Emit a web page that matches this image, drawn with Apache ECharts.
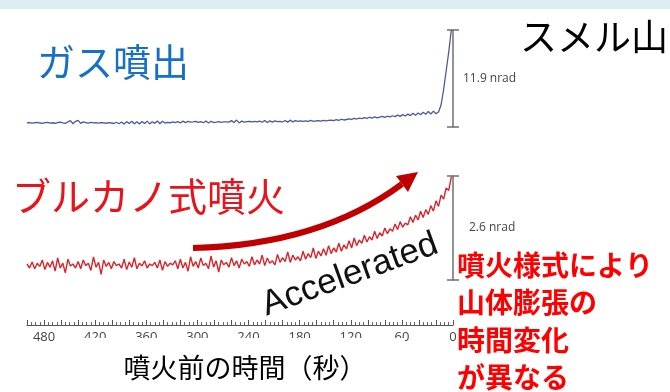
<!DOCTYPE html>
<html>
<head>
<meta charset="utf-8">
<script src="https://cdn.jsdelivr.net/npm/echarts@6/dist/echarts.min.js"></script>
<style>
  html, body { margin: 0; padding: 0; background: #ffffff; }
  #chart { width: 670px; height: 392px; }
</style>
</head>
<body>
<div id="chart"></div>
<script>
// Tilt records before eruption, sampled every 3 s from 500 s before onset.
const startTime = -500;
const stepSec = 3;

// Gas emission event (nrad)
const gasTilt = [
  0.50, 0.55, 0.47, 0.52, 0.58, 0.49, 0.45, 0.53, 0.57, 0.48,
  0.52, 0.46, 0.55, 0.60, 0.50, 0.44, 0.62, 0.78, 0.40, 0.70,
  0.82, 0.45, 0.62, 0.55, 0.48, 0.58, 0.50, 0.53, 0.47, 0.55,
  0.51, 0.46, 0.54, 0.49, 0.43, 0.58, 0.40, 0.62, 0.38, 0.66,
  0.42, 0.70, 0.40, 0.64, 0.36, 0.68, 0.42, 0.72, 0.38, 0.65,
  0.45, 0.74, 0.40, 0.70, 0.48, 0.58, 0.52, 0.62, 0.55, 0.66,
  0.50, 0.72, 0.54, 0.68, 0.60, 0.64, 0.70, 0.56, 0.66, 0.52,
  0.74, 0.48, 0.70, 0.55, 0.60, 0.66, 0.58, 0.62, 0.64, 0.60,
  0.78, 0.55, 0.85, 0.50, 0.72, 0.60, 0.66, 0.70, 0.62, 0.68,
  0.64, 0.72, 0.58, 0.80, 0.55, 0.76, 0.60, 0.74, 0.65, 0.70,
  0.62, 0.80, 0.60, 0.84, 0.62, 0.78, 0.70, 0.74, 0.68, 0.76,
  0.70, 0.80, 0.68, 0.74, 0.78, 0.72, 0.82, 0.76, 0.80, 0.84,
  0.78, 0.90, 0.82, 0.95, 0.86, 0.92, 1.00, 0.94, 1.05, 0.98,
  1.10, 1.02, 1.15, 1.05, 1.20, 1.08, 1.25, 1.12, 1.22, 1.30,
  1.18, 1.32, 1.25, 1.38, 1.28, 1.45, 1.30, 1.52, 1.35, 1.58,
  1.40, 1.68, 1.45, 1.72, 1.50, 1.80, 1.55, 1.90, 1.60, 1.95,
  1.62, 1.85, 2.70, 4.60, 6.90, 9.20, 11.90
];

// Vulcanian eruption (nrad)
const vulcanianTilt = [
  0.40, 0.30, 0.45, 0.28, 0.42, 0.34, 0.50, 0.26, 0.44, 0.32,
  0.48, 0.22, 0.55, 0.30, 0.42, 0.18, 0.52, 0.35, 0.40, 0.30,
  0.46, 0.28, 0.50, 0.36, 0.42, 0.24, 0.58, 0.32, 0.44, 0.14,
  0.50, 0.34, 0.44, 0.28, 0.46, 0.36, 0.40, 0.30, 0.52, 0.26,
  0.45, 0.32, 0.56, 0.28, 0.42, 0.35, 0.48, 0.30, 0.40, 0.36,
  0.44, 0.30, 0.50, 0.24, 0.46, 0.34, 0.42, 0.38, 0.48, 0.28,
  0.52, 0.30, 0.44, 0.22, 0.58, 0.34, 0.46, 0.30, 0.55, 0.36,
  0.42, 0.28, 0.60, 0.32, 0.48, 0.20, 0.50, 0.38, 0.44, 0.32,
  0.56, 0.36, 0.48, 0.30, 0.52, 0.40, 0.46, 0.34, 0.58, 0.38,
  0.50, 0.40, 0.62, 0.36, 0.55, 0.42, 0.48, 0.38, 0.64, 0.44,
  0.56, 0.46, 0.70, 0.44, 0.62, 0.50, 0.58, 0.48, 0.72, 0.52,
  0.66, 0.56, 0.80, 0.54, 0.72, 0.60, 0.78, 0.62, 0.86, 0.66,
  0.80, 0.70, 0.92, 0.72, 0.88, 0.78, 0.98, 0.80, 1.05, 0.86,
  1.00, 0.92, 1.12, 0.95, 1.08, 1.00, 1.22, 1.04, 1.18, 1.10,
  1.30, 1.16, 1.28, 1.22, 1.40, 1.26, 1.46, 1.32, 1.42, 1.38,
  1.58, 1.44, 1.62, 1.50, 1.72, 1.56, 1.76, 1.64, 1.86, 1.72,
  1.98, 1.84, 2.12, 2.02, 2.30, 2.24, 2.58
];

// Scale bar heights (nrad)
const gasScale = 11.9;
const vulcanianScale = 2.6;

// Labelled seconds on the time axis
const tickSeconds = [-480, -420, -360, -300, -240, -180, -120, -60, 0];

const toPairs = arr => arr.map((v, i) => [startTime + i * stepSec, v]);

const jp = '"Noto Sans CJK JP", "Noto Sans", sans-serif';
const barColor = '#6f6f6f';

function scaleAxis(gridIndex, max, label, gap, inside, lift) {
  return {
    type: 'value', gridIndex, position: 'right', min: 0, max, interval: max,
    axisLine: { show: !inside, onZero: false, lineStyle: { color: barColor, width: 1.5 } },
    axisTick: { show: true, inside, length: 6, lineStyle: { color: barColor, width: 1.5 } },
    axisLabel: { show: false },
    splitLine: { show: false },
    name: inside ? '' : label,
    nameLocation: 'middle',
    nameRotate: 0,
    nameGap: gap,
    nameTextStyle: {
      color: '#444', fontSize: 12, fontFamily: '"Open Sans", sans-serif',
      align: 'left', verticalAlign: 'middle', padding: [0, 0, lift, 0]
    }
  };
}

const chart = echarts.init(document.getElementById('chart'), null, { renderer: 'canvas' });

chart.setOption({
  animation: false,
  backgroundColor: '#ffffff',
  grid: [
    { left: 27, right: 217, top: 30, height: 97, containLabel: false, outerBoundsMode: 'none' },
    { left: 27, right: 217, top: 176, height: 104, containLabel: false, outerBoundsMode: 'none' }
  ],
  xAxis: [
    { type: 'value', gridIndex: 0, min: startTime, max: 0, show: false },
    {
      type: 'value', gridIndex: 1, min: startTime, max: 0, interval: 20, offset: 45,
      axisLine: { show: true, onZero: false, lineStyle: { color: '#555', width: 1 } },
      axisTick: { show: true, inside: true, length: 5, lineStyle: { color: '#555', width: 1 } },
      minorTick: { show: true, splitNumber: 4, length: 3, lineStyle: { color: '#666', width: 1 } },
      splitLine: { show: false },
      axisLabel: {
        color: '#444', fontSize: 13, margin: 6, fontFamily: '"Open Sans", sans-serif',
        formatter: v => (tickSeconds.includes(Math.round(v)) ? String(Math.abs(Math.round(v))) : '')
      }
    }
  ],
  yAxis: [
    scaleAxis(0, gasScale, gasScale + ' nrad', 10, false, 10),
    scaleAxis(0, gasScale, '', 0, true, 0),
    scaleAxis(1, vulcanianScale, vulcanianScale + ' nrad', 16, false, 0),
    scaleAxis(1, vulcanianScale, '', 0, true, 0)
  ],
  series: [
    {
      name: 'ガス噴出', type: 'line', xAxisIndex: 0, yAxisIndex: 0,
      data: toPairs(gasTilt), showSymbol: false, smooth: false,
      lineStyle: { color: '#4b5a9c', width: 1.3 }
    },
    {
      name: 'ブルカノ式噴火', type: 'line', xAxisIndex: 1, yAxisIndex: 2,
      data: toPairs(vulcanianTilt), showSymbol: false, smooth: false,
      lineStyle: { color: '#d8252b', width: 1.4 }
    }
  ],
  graphic: [
    { type: 'rect', z: 1, shape: { x: 0, y: 0, width: 670, height: 9 }, style: { fill: '#dcedf4' } },
    { type: 'text', z: 10, x: 37, y: 62, style: { text: 'ガス噴出', font: '38px ' + jp, fill: '#1670c4', verticalAlign: 'middle' } },
    { type: 'text', z: 10, x: 520, y: 37, style: { text: 'スメル山', font: '37px ' + jp, fill: '#000', verticalAlign: 'middle' } },
    { type: 'text', z: 10, x: 12, y: 196, style: { text: 'ブルカノ式噴火', font: '39px ' + jp, fill: '#e8131b', verticalAlign: 'middle' } },
    // curved trend arrow
    {
      type: 'bezierCurve', z: 10,
      shape: { x1: 193, y1: 248, x2: 402, y2: 184, cpx1: 320, cpy1: 245 },
      style: { stroke: '#c00000', lineWidth: 6, fill: null }
    },
    {
      type: 'polygon', z: 10,
      shape: { points: [[418, 172], [408, 192], [396, 176]] },
      style: { fill: '#c00000' }
    },
    {
      type: 'text', z: 10, x: 350, y: 275, rotation: 0.35,
      style: { text: 'Accelerated', font: '35px "Liberation Sans", Arial, sans-serif', fill: '#111', align: 'center', verticalAlign: 'middle' }
    },
    // axis title panel
    { type: 'rect', z: 50, shape: { x: 75, y: 338, width: 330, height: 54 }, style: { fill: '#ffffff' } },
    { type: 'text', z: 51, x: 245, y: 368, style: { text: '噴火前の時間（秒）', font: '27px ' + jp, fill: '#000', align: 'center', verticalAlign: 'middle' } },
    // note on the right
    { type: 'text', z: 51, x: 457, y: 265, style: { text: '噴火様式により', font: 'bold 28px ' + jp, fill: '#ff0000', verticalAlign: 'middle' } },
    { type: 'text', z: 51, x: 457, y: 302, style: { text: '山体膨張の', font: 'bold 28px ' + jp, fill: '#ff0000', verticalAlign: 'middle' } },
    { type: 'text', z: 51, x: 457, y: 340, style: { text: '時間変化', font: 'bold 28px ' + jp, fill: '#ff0000', verticalAlign: 'middle' } },
    { type: 'text', z: 51, x: 457, y: 377, style: { text: 'が異なる', font: 'bold 28px ' + jp, fill: '#ff0000', verticalAlign: 'middle' } }
  ]
});
</script>
</body>
</html>
